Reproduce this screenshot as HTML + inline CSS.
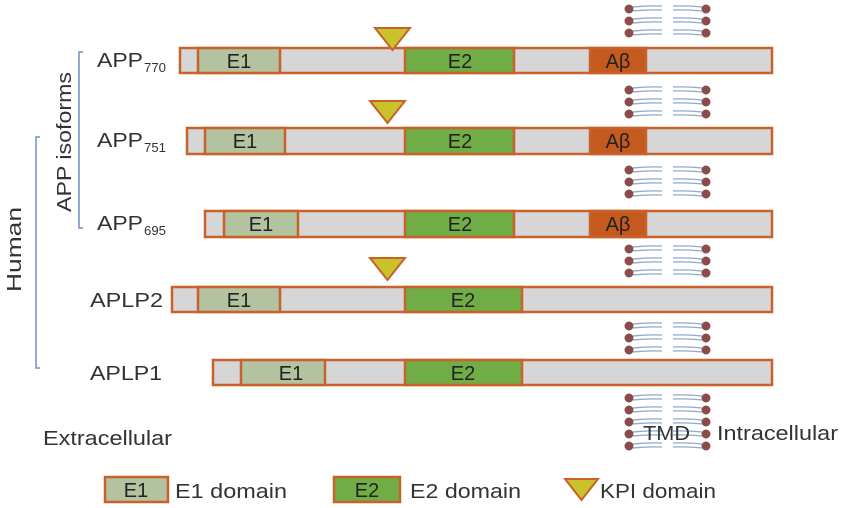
<!DOCTYPE html>
<html><head><meta charset="utf-8"><style>
html,body{margin:0;padding:0;background:#fff;}
svg{display:block;font-family:"Liberation Sans",sans-serif;}
</style></head><body>
<svg width="841" height="508" viewBox="0 0 841 508" xmlns="http://www.w3.org/2000/svg">
<defs>
<g id="lr">
<path d="M4,-2 Q18,-3.5 33,-3 M4,2 Q18,0.5 33,1" stroke="#8fa8cc" stroke-width="1.3" fill="none"/>
<path d="M73,-2 Q59,-3.5 44,-3 M73,2 Q59,0.5 44,1" stroke="#8fa8cc" stroke-width="1.3" fill="none"/>
<circle cx="0" cy="0" r="4.5" fill="#8b4c4c"/>
<circle cx="77" cy="0" r="4.5" fill="#8b4c4c"/>
</g>
<g id="l3"><use href="#lr" y="0"/><use href="#lr" y="12"/><use href="#lr" y="24"/></g>
</defs>
<g transform="translate(629,9)">
<use href="#l3" y="0"/><use href="#l3" y="81"/><use href="#l3" y="161"/><use href="#l3" y="240"/><use href="#l3" y="317"/>
<use href="#l3" y="389"/><use href="#lr" y="425"/><use href="#lr" y="437"/>
</g>
<g stroke="#c8612a" stroke-width="2.5">
<rect x="180" y="48" width="592" height="25" fill="#d6d6d6"/>
<rect x="198" y="48" width="82" height="25" fill="#b3c29f"/>
<rect x="405" y="48" width="109" height="25" fill="#70ad47"/>
<rect x="590" y="48" width="56" height="25" fill="#c55a1e"/>
<rect x="187" y="128" width="585" height="26" fill="#d6d6d6"/>
<rect x="205" y="128" width="80" height="26" fill="#b3c29f"/>
<rect x="405" y="128" width="109" height="26" fill="#70ad47"/>
<rect x="590" y="128" width="56" height="26" fill="#c55a1e"/>
<rect x="205" y="211" width="567" height="26" fill="#d6d6d6"/>
<rect x="224" y="211" width="74" height="26" fill="#b3c29f"/>
<rect x="405" y="211" width="109" height="26" fill="#70ad47"/>
<rect x="590" y="211" width="56" height="26" fill="#c55a1e"/>
<rect x="172" y="287" width="600" height="25" fill="#d6d6d6"/>
<rect x="198" y="287" width="82" height="25" fill="#b3c29f"/>
<rect x="405" y="287" width="117" height="25" fill="#70ad47"/>
<rect x="213" y="360" width="559" height="25" fill="#d6d6d6"/>
<rect x="241" y="360" width="84" height="25" fill="#b3c29f"/>
<rect x="405" y="360" width="117" height="25" fill="#70ad47"/>
<rect x="105" y="477" width="63" height="25" fill="#b3c29f"/>
<rect x="334" y="477" width="66" height="25" fill="#70ad47"/>
<path d="M375,28 L410,28 L392.5,50 Z" fill="#c9c22a" stroke-width="2"/>
<path d="M370,101 L405,101 L387.5,123 Z" fill="#c9c22a" stroke-width="2"/>
<path d="M370,258 L405,258 L387.5,280 Z" fill="#c9c22a" stroke-width="2"/>
<path d="M565,479 L598,479 L581.5,500 Z" fill="#c9c22a" stroke-width="2"/>
</g>
<g font-size="20" fill="#222" text-anchor="middle">
<text x="239" y="68">E1</text><text x="460" y="68">E2</text><text x="618" y="68">Aβ</text>
<text x="245" y="148">E1</text><text x="460" y="148">E2</text><text x="618" y="148">Aβ</text>
<text x="261" y="231">E1</text><text x="460" y="231">E2</text><text x="618" y="231">Aβ</text>
<text x="239" y="307">E1</text><text x="463" y="307">E2</text>
<text x="291" y="380">E1</text><text x="463" y="380">E2</text>
<text x="136" y="497">E1</text><text x="367" y="497">E2</text>
</g>
<g font-size="20" fill="#333" lengthAdjust="spacingAndGlyphs">
<text x="97" y="67"><tspan textLength="46" lengthAdjust="spacingAndGlyphs">APP</tspan></text>
<text x="144" y="72" font-size="13" textLength="22" lengthAdjust="spacingAndGlyphs">770</text>
<text x="97" y="147"><tspan textLength="46" lengthAdjust="spacingAndGlyphs">APP</tspan></text>
<text x="144" y="152" font-size="13" textLength="22" lengthAdjust="spacingAndGlyphs">751</text>
<text x="97" y="230"><tspan textLength="46" lengthAdjust="spacingAndGlyphs">APP</tspan></text>
<text x="144" y="235" font-size="13" textLength="22" lengthAdjust="spacingAndGlyphs">695</text>
<text x="90" y="307" textLength="73" lengthAdjust="spacingAndGlyphs">APLP2</text>
<text x="90" y="380" textLength="72" lengthAdjust="spacingAndGlyphs">APLP1</text>
<text x="43" y="445" textLength="129" lengthAdjust="spacingAndGlyphs">Extracellular</text>
<text x="643" y="440" textLength="47" lengthAdjust="spacingAndGlyphs">TMD</text>
<text x="717" y="440" textLength="121" lengthAdjust="spacingAndGlyphs">Intracellular</text>
<text x="175" y="498" textLength="112" lengthAdjust="spacingAndGlyphs">E1 domain</text>
<text x="410" y="498" textLength="111" lengthAdjust="spacingAndGlyphs">E2 domain</text>
<text x="600" y="498" textLength="116" lengthAdjust="spacingAndGlyphs">KPI domain</text>
<text transform="translate(71,212) rotate(-90)" textLength="140" lengthAdjust="spacingAndGlyphs">APP isoforms</text>
<text transform="translate(21,292) rotate(-90)" textLength="85" lengthAdjust="spacingAndGlyphs">Human</text>
</g>
<path d="M83,52 L79,52 L79,228 L83,228" stroke="#6b8fc7" stroke-width="1.5" fill="none"/>
<path d="M40,137 L36,137 L36,368 L40,368" stroke="#6b8fc7" stroke-width="1.5" fill="none"/>
</svg>
</body></html>
